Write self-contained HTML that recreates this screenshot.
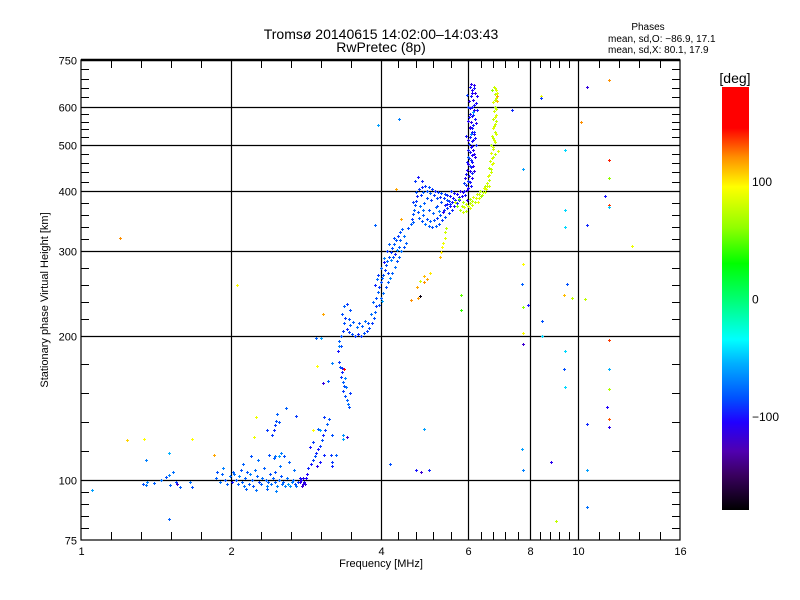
<!DOCTYPE html>
<html><head><meta charset="utf-8"><style>
html,body{margin:0;padding:0;background:#fff;}
svg{display:block;font-family:"Liberation Sans",sans-serif;}
</style></head><body>
<svg id="chart" width="800" height="600" viewBox="0 0 800 600" xmlns="http://www.w3.org/2000/svg">
<defs>
<linearGradient id="cbg" x1="0" y1="1" x2="0" y2="0">
<stop offset="0" stop-color="#000000"/><stop offset="0.083" stop-color="#3a0060"/>
<stop offset="0.139" stop-color="#5000b0"/><stop offset="0.208" stop-color="#2000ff"/>
<stop offset="0.264" stop-color="#0050ff"/><stop offset="0.347" stop-color="#00b0ff"/>
<stop offset="0.403" stop-color="#00ffff"/><stop offset="0.5" stop-color="#00ff70"/>
<stop offset="0.583" stop-color="#00ff00"/><stop offset="0.667" stop-color="#90ff00"/>
<stop offset="0.764" stop-color="#ffff00"/><stop offset="0.833" stop-color="#ff9000"/>
<stop offset="0.903" stop-color="#ff0000"/><stop offset="1" stop-color="#ff0000"/>
</linearGradient>
</defs>
<g font-size="14" text-anchor="middle" fill="#000">
<text x="381" y="39">Tromsø 20140615 14:02:00–14:03:43</text>
<text x="381" y="52">RwPretec (8p)</text>
</g>
<g font-size="10" fill="#000">
<text x="648" y="30" text-anchor="middle">Phases</text>
<text x="608" y="42">mean, sd,O: −86.9, 17.1</text>
<text x="608" y="53">mean, sd,X:  80.1, 17.9</text>
</g>
<g id="grid"></g>
<g id="ticks"></g>
<g id="points" shape-rendering="crispEdges"></g>
<rect x="81" y="60" width="599" height="480" fill="none" stroke="#000" stroke-width="1.2"/>
<line x1="81" y1="60" x2="680" y2="60" stroke="#000" stroke-width="2.5"/>
<text x="48" y="300" font-size="11" text-anchor="middle" transform="rotate(-90 48 300)">Stationary phase Virtual Height [km]</text>
<text x="381" y="567" font-size="11" text-anchor="middle">Frequency [MHz]</text>
<g id="colorbar">
<rect x="722" y="87" width="27" height="423" fill="url(#cbg)"/>
<text x="735" y="83" font-size="14" text-anchor="middle">[deg]</text>
</g>
</svg>
<script>
const xTickLabels = [1, 2, 4, 6, 8, 10, 16];
const yTickLabels = [75, 100, 200, 300, 400, 500, 600, 750];
const cbTicks = [100, 0, -100];
// [frequency MHz, virtual height km, phase deg]
const oLow = [[1.05,95.5,-60],[1.33,98,-85],[1.35,97.5,-75],[1.36,99,-70],[1.40,98.5,-80],[1.45,100,-75],[1.48,101.5,-85],[1.50,102.5,-70],[1.51,97.5,-80],[1.53,104,-75],[1.55,99,-90],[1.56,98,-120],[1.58,96.5,-80],[1.66,99,-75],[1.67,96.5,-85],[1.50,83,-80],[1.50,114,-55],[1.35,110,-70],
[1.87,101,-80],[1.88,104,-85],[1.90,99,-75],[1.92,103,-80],[1.93,106,-70],[1.95,100,-85],[1.97,98,-80],[1.99,102,-75],[2.01,99,-100],[2.02,104,-80],[2.03,103,-75],[2.05,100,-85],[2.07,98,-80],[2.08,102,-70],[2.10,105,-85],[2.11,99,-80],[2.13,97,-75],[2.14,101,-80],[2.16,104,-85],[2.18,98,-80],[2.19,103,-70],[2.21,100,-80],[2.22,97,-85],[2.24,105,-75],[2.26,102,-80],[2.28,99,-90],[2.30,98,-80],[2.31,101,-75],[2.33,106,-85],[2.35,100,-80],[2.36,97,-70],[2.38,99,-80],[2.40,103,-85],[2.41,98,-75],[2.43,101,-80],[2.45,104,-85],[2.46,99,-80],[2.48,97,-70],[2.50,100,-80],[2.52,102,-85],[2.53,98,-75],[2.55,99,-80],[2.57,97,-70],[2.59,101,-75],[2.61,98,-60],[2.63,97,-65],[2.65,99,-70],[2.67,100,-80],[2.69,98,-85],[2.71,97,-75],[2.73,99,-90],[2.75,101,-100],[2.77,100,-110],[2.79,98,-115],[2.81,99,-110],[2.83,101,-105],
[2.12,108,-80],[2.20,112,-85],[2.27,110,-75],[2.33,106,-80],[2.39,113,-85],[2.44,111,-80],[2.51,107,-75],[2.56,112,-85],[2.62,109,-80],[2.68,105,-75],[2.15,96,-80],[2.25,95.5,-75],[2.36,96,-80],[2.47,95,-70]];
const oRise = [[2.80,101,-110],[2.84,103,-105],[2.86,106,-95],[2.90,108,-100],[2.92,110,-90],[2.95,112,-85],[2.97,114,-95],[3.00,116,-100],[3.02,118,-90],[3.05,121,-85],[3.07,124,-95],[3.10,127,-90],[3.12,131,-80],[3.15,134,-85],[2.98,107,-110],[3.03,109,-100],[3.08,113,-95],[2.88,117,-100],[2.93,120,-90],[3.00,128,-80],[2.78,97,-120],[2.82,98,-115],[2.76,99,-110],[3.20,107,-95],[3.18,113,-90],[3.25,113,-80],
[2.42,124,-90],[2.44,127,-95],[2.46,130,-90],[2.47,133,-85],[2.48,137,-80],[2.50,112,-60],[2.52,114,-70],[2.46,112,-75],[2.58,141,-80],[2.50,132,-85],
[3.30,176,-90],[3.32,172,-85],[3.34,168,-95],[3.33,164,-90],[3.36,160,-80],[3.38,157,-85],[3.37,153,-90],[3.40,150,-85],[3.42,147,-80],[3.44,144,-75],[3.45,142,-85],[3.39,163,-70],[3.41,156,-75],[3.35,171,-95],[3.47,152,-90],[3.30,190,-70],[3.28,186,-100],[3.38,170,150],[3.07,159,-115],[3.20,175,-70],[3.20,124,-85],[3.37,122,-60],[3.08,135,-90],[3.20,109,-90]];
const oMid = [[3.30,195,-80],[3.33,200,-85],[3.36,204,-90],[3.38,212,-85],[3.40,218,-90],[3.35,222,-85],[3.38,230,-80],[3.42,206,-95],[3.46,203,-90],[3.50,201,-85],[3.55,200,-90],[3.60,201,-95],[3.65,200,-90],[3.70,202,-85],[3.75,204,-90],[3.80,207,-85],[3.85,212,-90],[3.88,218,-85],[3.90,224,-80],[3.92,230,-90],[3.48,210,-80],[3.58,208,-75],[3.68,209,-80],[3.78,212,-85],[3.45,216,-85],[3.52,213,-80],[3.62,212,-85],[3.72,214,-75],[3.43,233,-90],[3.47,226,-85],[3.83,222,-75],[3.86,235,-80],[2.97,198,-80],[3.04,198,-60],[3.33,190,-85],
[3.92,240,-85],[3.95,246,-80],[3.97,252,-90],[4.00,258,-85],[4.02,263,-80],[4.05,268,-85],[4.08,274,-90],[4.10,280,-85],[4.13,286,-80],[4.16,292,-85],[4.19,298,-90],[4.22,304,-85],[4.26,310,-80],[4.30,316,-85],[4.34,322,-90],[4.38,328,-85],[4.42,333,-80],
[4.00,240,-80],[4.05,245,-75],[4.10,252,-85],[4.15,258,-80],[4.18,264,-70],[4.22,270,-80],[4.27,278,-75],[4.32,286,-85],[4.36,292,-80],[4.40,300,-75],[4.45,306,-85],[4.50,312,-80],[3.90,255,-95],[3.96,268,-90],[4.06,285,-100],[4.12,300,-90],[3.98,232,-85],[4.03,236,-60],[4.20,287,-70],[4.28,296,-95],[4.35,306,-80],
[3.94,262,-75],[4.01,276,-80],[4.07,290,-70],[4.14,270,-90],[4.24,292,-85],[4.31,302,-70],[4.38,316,-80],[4.46,322,-75],[4.25,320,-85],[4.17,310,-80]];
const oBulge = [[4.55,335,-85],[4.60,342,-80],[4.62,350,-90],[4.65,358,-85],[4.68,366,-80],[4.70,374,-85],[4.72,382,-90],[4.74,390,-95],[4.72,398,-85],[4.78,404,-90],[4.85,408,-95],[4.92,410,-90],[5.00,408,-85],[5.08,404,-90],[5.15,400,-95],[5.22,398,-90],[5.30,396,-85],[5.38,394,-90],[5.45,392,-95],[5.52,390,-100],
[4.78,352,-80],[4.85,346,-85],[4.92,342,-75],[5.00,338,-80],[5.08,336,-85],[5.16,338,-80],[5.24,342,-85],[5.32,348,-90],[5.40,354,-85],[5.48,360,-90],[5.56,366,-95],[5.63,372,-100],[5.70,378,-95],[5.76,384,-100],[5.82,390,-105],
[4.80,372,-75],[4.90,378,-80],[5.00,366,-85],[5.10,360,-80],[5.20,372,-90],[5.30,380,-85],[5.40,374,-95],[5.50,382,-90],[5.60,386,-100],[5.70,394,-105],[4.70,420,-90],[4.75,428,-100],[4.95,386,-85],[5.05,384,-90],[5.25,364,-70],[5.35,362,-110],[5.45,376,-100],[5.55,400,-95],[5.62,396,-100],[5.78,400,-110],[5.85,398,-105]];
const oBulgeExtra = [[4.66,345,-80],[4.76,362,-85],[4.82,392,-90],[4.88,398,-80],[4.96,400,-85],[5.04,396,-80],[5.12,392,-90],[5.20,386,-85],[5.28,388,-95],[5.36,386,-90],[5.44,384,-85],[5.52,376,-90],[5.58,380,-100],[5.66,384,-95],[5.74,388,-100],[4.88,356,-80],[4.96,350,-85],[5.04,346,-80],[5.12,348,-85],[5.20,352,-90],[5.28,356,-85],[5.36,366,-95],[5.44,368,-90],[5.52,372,-100],[4.86,366,-75],[5.16,370,-80],[4.64,380,-90],[4.84,420,-95],[5.92,392,-100],[5.96,384,-110]];
const oTop = [[5.90,400,-100],[6.00,405,-105],[5.95,412,-95],[6.05,418,-100],[5.92,425,-110],[6.02,430,-100],[6.10,436,-95],[5.98,442,-105],[6.07,448,-100],[6.00,455,-110],[6.12,460,-100],[6.03,468,-95],[6.10,475,-105],[6.05,482,-100],[6.15,488,-110],[6.08,495,-100],[6.02,502,-95],[6.14,510,-105],[6.06,518,-100],[6.18,525,-110],[6.10,532,-100],[6.04,540,-105],[6.15,548,-95],[6.08,556,-110],[6.20,564,-100],[6.12,572,-105],[6.05,580,-100],[6.18,590,-110],[6.10,600,-100],[6.22,610,-105],[6.14,620,-110],[6.07,630,-100],[6.20,640,-115],[6.12,650,-105],[6.05,660,-100],[6.18,665,-110],[6.00,470,-85],[6.20,470,-110],[5.95,520,-100],[6.22,500,-95],[6.00,600,-90],[6.25,590,-100],[5.88,415,-90],[6.16,440,-115],[6.09,525,-70],[6.13,585,-60],[5.98,635,-90]];
const oTopExtra = [[5.96,402,-110],[6.08,410,-100],[5.99,420,-95],[6.12,426,-110],[5.95,434,-100],[6.04,440,-105],[6.14,450,-110],[5.97,460,-100],[6.08,464,-95],[6.16,478,-110],[6.00,486,-100],[6.12,496,-105],[6.20,515,-100],[6.01,512,-110],[6.12,540,-100],[6.00,560,-105],[6.22,555,-110],[6.02,570,-100],[6.15,575,-95],[6.06,595,-105],[6.16,605,-100],[6.03,615,-110],[6.10,640,-105],[6.18,655,-100],[6.08,668,-110],[6.24,630,-105],[6.06,545,-115],[6.16,530,-95],[6.10,508,-100],[6.04,452,-90]];
const xTrace = [[5.70,372,60],[5.78,365,70],[5.86,362,80],[5.95,364,75],[6.05,368,85],[6.12,374,80],[6.20,380,75],[6.30,386,85],[6.40,392,80],[6.50,398,75],[5.75,385,50],[5.85,380,70],[5.95,376,80],[6.05,378,75],[6.15,388,85],[6.25,394,80],[6.35,400,70],[6.45,405,85],[6.55,410,80],
[6.55,415,80],[6.62,422,75],[6.58,430,85],[6.66,438,80],[6.60,446,70],[6.70,455,85],[6.64,463,80],[6.72,472,75],[6.66,480,85],[6.74,490,80],[6.68,500,70],[6.76,510,85],[6.70,520,80],[6.78,530,75],[6.72,540,85],[6.80,552,80],[6.74,564,75],[6.82,576,85],[6.76,588,80],[6.80,600,70],[6.74,612,85],[6.82,624,80],[6.78,636,75],[6.84,648,85],[6.76,660,80],[6.70,650,60],[6.86,615,110],
[5.30,298,100],[5.32,306,95],[5.35,312,90],[5.38,320,85],[5.40,328,80],[5.42,335,75],[5.28,292,110],[4.95,262,115],[4.90,258,120],[5.02,270,100],[4.75,240,118],[5.80,243,50],[5.80,226,40]];
const xTraceExtra = [[5.90,370,85],[6.00,372,80],[6.10,382,75],[6.22,386,85],[6.32,394,80],[6.42,398,75],[6.52,404,85],[6.60,410,80],[6.62,432,85],[6.68,444,75],[6.74,458,85],[6.70,468,80],[6.78,478,75],[6.72,494,85],[6.80,505,80],[6.74,516,75],[6.82,526,85],[6.76,546,80],[6.84,560,75],[6.78,570,85],[6.84,594,80],[6.78,620,75],[6.86,640,85],[6.80,655,80],[5.82,372,75],[6.06,385,70],[6.28,380,90],[6.48,410,75],[5.66,380,80],[6.36,390,65]];
const scatter = [[1.20,320,120],[1.24,121,105],[1.34,122,95],[1.67,122,95],[1.85,113,115],[2.06,255,95],[2.25,135,90],[2.23,123,90],[2.37,127,-90],[2.70,136,-90],[2.98,173,95],[2.93,127,95],[3.03,127,-60],[3.06,222,115],[3.14,161,-80],[3.42,123,-120],[3.36,124,-65],[3.90,340,-80],[3.96,550,-60],[4.35,565,-70],[4.40,350,115],[4.30,403,115],[4.60,237,120],[4.90,266,110],[4.80,260,80],[4.74,253,115],[4.80,242,-175],[4.18,108,-85],[4.72,105,-100],[4.82,104,-120],[5.00,105,-95],[4.90,128,-60],
[6.87,631,115],[7.35,590,-95],[8.40,630,90],[8.42,625,-90],[10.4,660,-115],[11.5,680,120],[10.1,556,120],[6.90,485,85],[9.40,487,-45],[11.5,465,140],[11.5,425,60],[7.75,445,-60],[11.3,390,-100],[11.5,374,135],[11.5,370,-50],[9.40,365,-45],[10.4,340,-95],[9.40,336,-45],[12.8,307,90],[7.75,282,95],[7.70,256,-80],[9.50,256,-85],[9.35,243,110],[9.70,240,75],[10.3,238,75],[7.75,229,60],[7.90,232,-100],[8.45,214,-85],[7.75,202,95],[8.45,200,-45],[7.75,192,-120],[11.5,196,135],[9.40,186,-45],[9.35,170,-85],[9.40,156,-45],[11.5,170,-55],[11.5,155,70],[11.4,142,-105],[11.5,134,130],[10.4,131,-95],[11.5,129,-110],[7.70,116,-60],[8.80,109,-110],[7.75,105,-70],[10.4,105,-60],[10.4,88,-75],[9.00,82,75]];

const NS='http://www.w3.org/2000/svg';
const L=81,R=680,T=60,B=540;
function xPx(f){return L+(R-L)*Math.log2(f)/4;}
function yPx(h){return B-(B-T)*Math.log10(h/75);}
const cStops=[[-180,[0,0,0]],[-150,[58,0,96]],[-130,[80,0,176]],[-105,[32,0,255]],[-85,[0,80,255]],[-55,[0,176,255]],[-35,[0,255,255]],[0,[0,255,112]],[30,[0,255,0]],[60,[144,255,0]],[95,[255,255,0]],[120,[255,144,0]],[145,[255,0,0]],[180,[255,0,0]]];
function phaseColor(p){
  for(let i=1;i<cStops.length;i++){
    if(p<=cStops[i][0]){const a=cStops[i-1],b=cStops[i];const t=(p-a[0])/(b[0]-a[0]);
      const c=a[1].map((v,k)=>Math.round(v+(b[1][k]-v)*t));return 'rgb('+c.join(',')+')';}
  }
  return 'rgb(255,0,0)';
}
function mk(tag,attrs,parent){const e=document.createElementNS(NS,tag);for(const k in attrs)e.setAttribute(k,attrs[k]);parent.appendChild(e);return e;}
const grid=document.getElementById('grid'),ticks=document.getElementById('ticks'),pts=document.getElementById('points');
xTickLabels.forEach((v,i)=>{
  const x=Math.round(xPx(v))+0.5;
  if(i>0&&i<xTickLabels.length-1){
    const gl=mk('line',{x1:x,y1:T,x2:x,y2:B,stroke:'#000','stroke-width':1.2},grid);
    
    
  }
  const t=mk('text',{x:x,y:B+15,'font-size':11,'text-anchor':'middle'},ticks);
  t.textContent=v;
  
  
  if(i<xTickLabels.length-1){
    const x2=xPx(xTickLabels[i+1]),x1=xPx(v);
    for(let k=1;k<5;k++){const xx=Math.round(x1+(x2-x1)*k/5)+0.5;
      const m1=mk('line',{x1:xx,y1:B,x2:xx,y2:B-8,stroke:'#000'},ticks);
      
      
      const m2=mk('line',{x1:xx,y1:T,x2:xx,y2:T+8,stroke:'#000'},ticks);
      
      }
  }
});
yTickLabels.forEach((v,i)=>{
  const y=Math.round(yPx(v))+0.5;
  if(i>0&&i<yTickLabels.length-1){
    const gl=mk('line',{x1:L,y1:y,x2:R,y2:y,stroke:'#000','stroke-width':1.2},grid);
    
    
  }
  const t=mk('text',{x:L-4,y:y+4,'font-size':11,'text-anchor':'end'},ticks);
  t.textContent=v;
  
  
  if(i<yTickLabels.length-1){
    const y1=yPx(v),y2=yPx(yTickLabels[i+1]);
    for(let k=1;k<5;k++){const yy=Math.round(y1+(y2-y1)*k/5)+0.5;
      const m1=mk('line',{x1:L,y1:yy,x2:L+8,y2:yy,stroke:'#000'},ticks);
      
      
      const m2=mk('line',{x1:R,y1:yy,x2:R-8,y2:yy,stroke:'#000'},ticks);
      
      }
  }
});
[oLow,oRise,oMid,oBulge,oBulgeExtra,oTop,oTopExtra,xTrace,xTraceExtra,scatter].forEach(arr=>{
  arr.forEach(d=>{
    const x=Math.round(xPx(d[0])),y=Math.round(yPx(d[1])),c=phaseColor(d[2]);
    const g=mk('g',{fill:c},pts);
    
    
    mk('rect',{x:x-1,y:y,width:3,height:1},g);
    mk('rect',{x:x,y:y-1,width:1,height:3},g);
  });
});
const cb=document.getElementById('colorbar');
cbTicks.forEach(v=>{
  const y=87+(180-v)/360*423;
  const t=mk('text',{x:752,y:y+5,'font-size':12},cb);
  t.textContent=v<0?'−'+Math.abs(v):String(v);
  
  
});
</script>
</body></html>
